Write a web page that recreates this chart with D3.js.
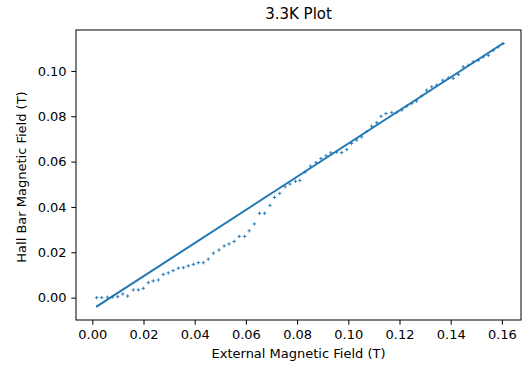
<!DOCTYPE html>
<html>
<head>
<meta charset="utf-8">
<script src="https://cdn.jsdelivr.net/npm/d3@7"></script>
<style>
  body { margin: 0; background: #fff; }
  text { font-family: "DejaVu Sans", sans-serif; fill: #000; }
</style>
</head>
<body>
<div id="chart"></div>
<script>
// measured points (T)
const fieldX = [0.0017, 0.0037, 0.0059, 0.0078, 0.0099, 0.0119, 0.0138, 0.0160, 0.0180, 0.0199,
  0.0219, 0.0238, 0.0258, 0.0277, 0.0297, 0.0316, 0.0336, 0.0356, 0.0375, 0.0395,
  0.0414, 0.0434, 0.0453, 0.0473, 0.0495, 0.0515, 0.0534, 0.0554, 0.0574, 0.0595,
  0.0613, 0.0633, 0.0653, 0.0673, 0.0694, 0.0712, 0.0732, 0.0753, 0.0772, 0.0794,
  0.0811, 0.0831, 0.0852, 0.0874, 0.0893, 0.0913, 0.0932, 0.0954, 0.0974, 0.0994,
  0.1013, 0.1033, 0.1052, 0.1072, 0.1091, 0.1111, 0.1128, 0.1147, 0.1170, 0.1189,
  0.1209, 0.1228, 0.1248, 0.1267, 0.1287, 0.1306, 0.1326, 0.1345, 0.1369, 0.1391,
  0.1410, 0.1430, 0.1449, 0.1469, 0.1488, 0.1508, 0.1527, 0.1547, 0.1566, 0.1586,
  0.1605]
const hallY = [0.0000, 0.0000, 0.0002, 0.0002, 0.0004, 0.0016, 0.0007, 0.0034, 0.0034, 0.0041,
  0.0066, 0.0074, 0.0078, 0.0102, 0.0109, 0.0119, 0.0130, 0.0132, 0.0140, 0.0147,
  0.0154, 0.0154, 0.0170, 0.0196, 0.0210, 0.0228, 0.0237, 0.0248, 0.0270, 0.0270,
  0.0295, 0.0325, 0.0372, 0.0372, 0.0407, 0.0442, 0.0460, 0.0489, 0.0501, 0.0513,
  0.0517, 0.0554, 0.0580, 0.0596, 0.0614, 0.0626, 0.0639, 0.0642, 0.0640, 0.0653,
  0.0680, 0.0695, 0.0709, 0.0733, 0.0756, 0.0772, 0.0800, 0.0812, 0.0817, 0.0817,
  0.0827, 0.0844, 0.0856, 0.0867, 0.0890, 0.0915, 0.0930, 0.0937, 0.0959, 0.0969,
  0.0967, 0.0984, 0.1018, 0.1025, 0.1040, 0.1047, 0.1062, 0.1069, 0.1091, 0.1106,
  0.1121]

// fitted line ends
const fitX = [0.0015, 0.1605]
const fitY = [-0.0041, 0.1122]

const xTicks = [0, 0.02, 0.04, 0.06, 0.08, 0.10, 0.12, 0.14, 0.16]
const yTicks = [0, 0.02, 0.04, 0.06, 0.08, 0.10]

const W = 522, H = 366
const margin = ({ top: 30, right: 1, bottom: 46, left: 76 })
const width = W - margin.left - margin.right,
    height = H - margin.top - margin.bottom

const blue = "#1f77b4"

let svg = d3.select("#chart").append("svg")
    .attr("width", W)
    .attr("height", H)

let g = svg.append("g")
    .attr("transform", "translate(" + margin.left + "," + margin.top + ")")

let xScale = d3.scaleLinear()
    .domain([-0.00637, 0.16746])
    .range([0, width])

let yScale = d3.scaleLinear()
    .domain([-0.00987, 0.11806])
    .range([height, 0])

let xAxis = d3.axisBottom(xScale)
    .tickValues(xTicks)
    .tickFormat(d3.format(".2f"))
    .tickSize(4.7)
    .tickPadding(4.7)

let yAxis = d3.axisLeft(yScale)
    .tickValues(yTicks)
    .tickFormat(d3.format(".2f"))
    .tickSize(4.7)
    .tickPadding(4.7)

// points
let pts = g.append("g")
    .attr("stroke", blue)
    .attr("stroke-width", 1)
    .attr("stroke-opacity", 0.9)
fieldX.forEach((xv, i) => {
    const cx = xScale(xv), cy = yScale(hallY[i])
    pts.append("path")
        .attr("d", `M${cx - 1.7},${cy}H${cx + 1.7}M${cx},${cy - 1.7}V${cy + 1.7}`)
})

// fit line
g.append("path")
    .datum(fitX.map((d, i) => [d, fitY[i]]))
    .attr("fill", "none")
    .attr("stroke", blue)
    .attr("stroke-width", 2)
    .attr("d", d3.line().x(d => xScale(d[0])).y(d => yScale(d[1])))

// frame
g.append("rect")
    .attr("width", width)
    .attr("height", height)
    .attr("fill", "none")
    .attr("stroke", "#000")
    .attr("stroke-width", 1)

let gx = g.append("g")
    .attr("class", "axis x-axis")
    .attr("transform", `translate(0, ${height})`)
    .call(xAxis)
let gy = g.append("g")
    .attr("class", "axis y-axis")
    .call(yAxis)

;[gx, gy].forEach(a => {
    a.select(".domain").remove()
    a.selectAll(".tick line").attr("stroke", "#000").attr("stroke-width", 1)
    a.selectAll(".tick text").attr("font-size", 13).attr("font-family", "DejaVu Sans").attr("fill", "#222")
})

svg.append("text")
    .attr("x", margin.left + width / 2)
    .attr("y", 19)
    .attr("text-anchor", "middle")
    .attr("font-size", 15)
    .attr("fill", "#111")
    .text("3.3K Plot")

svg.append("text")
    .attr("x", margin.left + width / 2)
    .attr("y", 357.5)
    .attr("text-anchor", "middle")
    .attr("font-size", 13)
    .attr("fill", "#222")
    .text("External Magnetic Field (T)")

svg.append("text")
    .attr("transform", `translate(26, ${margin.top + height / 2 + 2}) rotate(-90)`)
    .attr("text-anchor", "middle")
    .attr("font-size", 13)
    .attr("fill", "#222")
    .text("Hall Bar Magnetic Field (T)")
</script>
</body>
</html>
